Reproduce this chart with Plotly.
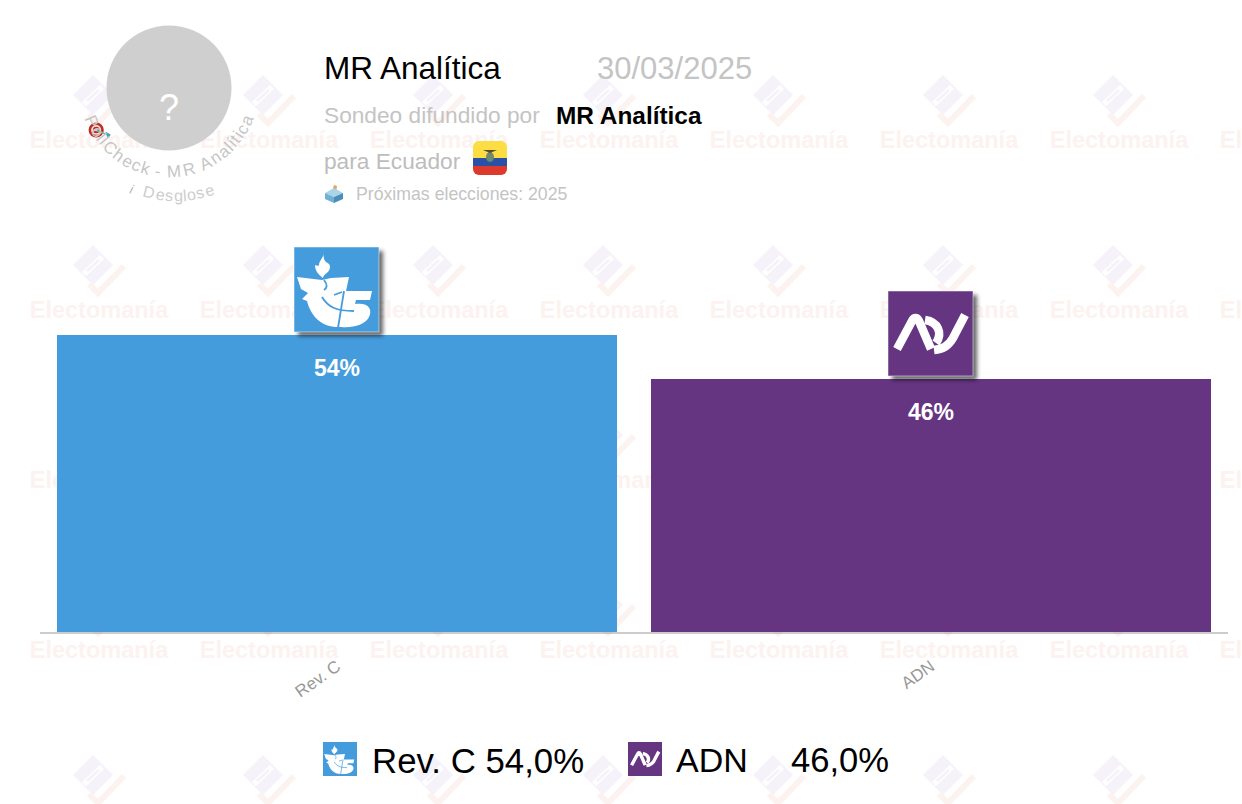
import base64
from math import sin, cos, radians
import plotly.graph_objects as go

categories = ['Rev. C', 'ADN']
values = [54, 46]
bar_labels = ['54%', '46%']
bar_colors = ['#459cdd', '#653582']
legend_values = ['54,0%', '46,0%']

title = 'MR Analítica'
date = '30/03/2025'
next_elections = 'Próximas elecciones: 2025'
arc_title = 'PollCheck - MR Analítica'
arc_sub = 'Desglose'
watermark = 'Electomanía'

W = 1242
H = 804
M_L, M_R, M_T, M_B = 40, 14, 82, 172
FONT = 'Liberation Sans'
GREY = '#c4c4c4'

# em widths, only used to lay the curved text out
EM = {'P': .667, 'o': .556, 'l': .222, 'C': .722, 'h': .556, 'e': .556, 'c': .5, 'k': .5, ' ': .278,
      '-': .333, 'M': .833, 'R': .722, 'A': .667, 'n': .556, 'a': .556, 'í': .278, 't': .278, 'i': .222,
      'D': .722, 's': .5, 'g': .556}


def px(x):
    return (x - M_L) / (W - M_L - M_R)


def py(y):
    return 1 - (y - M_T) / (H - M_T - M_B)


def svg_uri(body, vb_w, vb_h):
    svg = '<svg xmlns="http://www.w3.org/2000/svg" viewBox="0 0 {w} {h}" width="{w}" height="{h}">{b}</svg>'.format(w=vb_w, h=vb_h, b=body)
    return 'data:image/svg+xml;base64,' + base64.b64encode(svg.encode('utf-8')).decode('ascii')


RC5_GLYPH = '''
<path fill="#fff" d="M29 5 C31 10 25 13 25 18 C25 19 23 19 21 18 C21 24 25 28 29 31 C29 27 36 26 36 20 C36 16 33 16 32 15 C29 12 30 9 29 5 Z"/>
<path fill="#fff" d="M3 30 L28 33 L37 31 L55 30 L52 44 L78 44 L76 53 L62 53 L61 57 C74 55 79 62 75 70 C71 78 59 81 47 80 L44 80 C28 80 17 70 13 54 L8 52 L14 46 L7 42 Z"/>
<g fill="none" stroke="#459cdd" stroke-width="1.8">
<path d="M28 50 C34 60 42 64 60 64"/><path d="M50 44 L44 81"/><path d="M40 48 L48 45"/><path d="M30 33 C34 38 33 41 30 43"/>
</g>
'''
ADN_GLYPH = '''
<g fill="none" stroke="#fff" stroke-width="8.5" stroke-linecap="butt" stroke-linejoin="round">
<path d="M9 58 L24 30 C26 26 29 26 31 30 L43 58"/>
<path d="M37 29 C50 31 55 42 48 52"/>
<path d="M77 24 L65 47 C60 56 54 58 46 59"/>
</g>
'''


def badge(color, glyph):
    shadow = '<filter id="s" x="-20%" y="-20%" width="140%" height="140%"><feGaussianBlur stdDeviation="2"/></filter>'
    body = shadow + '<rect x="4" y="4" width="85" height="85" fill="#000" fill-opacity="0.6" filter="url(#s)"/>'
    body += '<rect x="0" y="0" width="85" height="85" fill="{c}" stroke="#ffffff" stroke-opacity="0.5" stroke-width="1"/>'.format(c=color)
    return svg_uri(body + glyph, 95, 95)


def square(color, glyph):
    return svg_uri('<rect width="85" height="85" fill="{c}"/>'.format(c=color) + glyph, 85, 85)


WM_LOGO = svg_uri('''
<path fill="#f5f2f9" d="M20 0 L40 20 L20 40 L0 20 Z"/>
<path fill="#ffffff" d="M27 10 L31 14 L13 31 L9 27 Z"/>
<path fill="#f5f2f9" d="M25 14 L27 16 L15 27 L13 25 Z"/>
<path fill="none" stroke="#fcf3f0" stroke-width="6" d="M51 21 L25 48 L16 39"/>
''', 56, 56)

FLAG = svg_uri('''
<clipPath id="c"><rect width="34" height="34" rx="6"/></clipPath>
<g clip-path="url(#c)">
<rect width="34" height="17" fill="#fcdd44"/><rect y="17" width="34" height="9" fill="#2a50a8"/><rect y="25" width="34" height="9" fill="#dd3a2e"/>
</g>
<ellipse cx="17" cy="16" rx="4" ry="5" fill="#6f8a6a"/><path d="M10 9 L24 9 L17 12 Z" fill="#5a4a30"/>
''', 34, 34)

TARGET = svg_uri('''
<circle cx="7.5" cy="7.5" r="7" fill="#c22a22"/><circle cx="7.5" cy="7.5" r="4.6" fill="#f2e2dc"/>
<circle cx="7.5" cy="7.5" r="3" fill="#c22a22"/><circle cx="7.5" cy="7.5" r="1.3" fill="#f2e2dc"/>
<path d="M8 8 L18 12" stroke="#6fb6a8" stroke-width="1.6"/><path d="M16 9 L21 12 L18 15 Z" fill="#3fa4b8"/>
''', 22, 16)

BALLOT = svg_uri('''
<path d="M9 0 L12 1 L11 7 L7 7 Z" fill="#e5a25a"/>
<path d="M9 3 L18 8 L9 12 L0 8 Z" fill="#a9d4ea"/>
<path d="M0 8 L9 12 L9 18 L0 14 Z" fill="#6fb0d4"/>
<path d="M18 8 L9 12 L9 18 L18 14 Z" fill="#4b8fb8"/>
''', 18, 18)


fig = go.Figure(go.Bar(x=categories,
                       y=values,
                       marker_color=bar_colors,
                       marker_line_width=0,
                       hoverinfo='skip'))

images = []


def add_image(source, x, y, w, h, layer='above'):
    images.append(dict(source=source, xref='paper', yref='paper', x=px(x), y=py(y),
                       sizex=w / (W - M_L - M_R), sizey=h / (H - M_T - M_B),
                       xanchor='left', yanchor='top', sizing='stretch', layer=layer))


def add_text(text, x, y, size, color, anchor='left', **kwargs):
    fig.add_annotation(text=text, xref='paper', yref='paper', x=px(x), y=py(y), showarrow=False,
                       xanchor=anchor, yanchor='middle', font=dict(family=FONT, size=size, color=color), **kwargs)


def add_arc(text, cx, cy, r, start, end, size, color):
    total = sum(EM.get(c, .5) for c in text)
    pos = 0
    for c in text:
        w = EM.get(c, .5)
        theta = start + (end - start) * (pos + w / 2) / total
        pos += w
        if c == ' ':
            continue
        add_text(c, cx + r * sin(radians(theta)), cy + r * cos(radians(theta)), size, color,
                 anchor='center', textangle=-theta)


# watermark tiles behind the bars
for row in range(5):
    for col in range(8):
        add_image(WM_LOGO, 73 + 170 * col, 75 + 170 * row, 56, 56, layer='below')
for row in range(4):
    for col in range(8):
        x0 = 30 + 170 * col
        y0 = 137 + 170 * row
        fig.add_shape(type='rect', xref='paper', yref='paper', layer='below',
                      x0=px(x0), x1=px(x0 + 138), y0=py(y0 - 12), y1=py(y0 + 12),
                      line_width=0, fillcolor='rgba(0,0,0,0)',
                      label=dict(text=watermark, textposition='middle center',
                                 font=dict(family=FONT, size=23.5, color='#fcf2f0', weight=700)))

# avatar with the question mark
fig.add_shape(type='circle', xref='paper', yref='paper', layer='above',
              x0=px(106.5), x1=px(231.5), y0=py(25.5), y1=py(150.5),
              line_width=0, fillcolor='#d0cfcf')
add_text('?', 169, 108, 36, '#ffffff', anchor='center')
add_image(TARGET, 88, 122, 24, 17)
add_arc(arc_title, 169, 88, 84, -71, 71, 17, '#c6c6c6')
add_arc(arc_sub, 175, 88, 108, -17, 21, 16, '#cdcdcd')
add_text('<i>i</i>', 132, 190, 13, '#b5b5b5', anchor='center', textangle=15)

# header
add_text(title, 322, 68, 31.5, '#000000')
add_text(date, 595, 68, 31, GREY)
add_text('Sondeo difundido por', 322, 115, 22.7, GREY)
add_text('<b>' + title + '</b>', 554, 116, 24.4, '#000000')
add_text('para Ecuador', 322, 161, 22.7, '#bdbdbd')
add_image(FLAG, 473, 141, 34, 34)
add_image(BALLOT, 325, 185, 18, 18)
add_text(next_elections, 354, 194, 17.7, GREY)

# badges on the bars
for cat, val, color, glyph, x0 in zip(categories, values, bar_colors, [RC5_GLYPH, ADN_GLYPH], [294, 888]):
    bar_top = 632 - val * 5.5
    add_image(badge(color, glyph), x0, bar_top - 88, 95, 95)
    fig.add_annotation(x=cat, y=val, yshift=-33, text='<b>' + bar_labels[categories.index(cat)] + '</b>',
                       showarrow=False, yanchor='middle',
                       font=dict(family=FONT, size=23, color='#ffffff'))

# legend row
add_image(square(bar_colors[0], RC5_GLYPH), 323, 742, 34, 34)
add_image(square(bar_colors[1], ADN_GLYPH), 628, 742, 34, 34)
add_text(categories[0] + ' ' + legend_values[0], 370, 760, 34.8, '#000000')
add_text(categories[1], 674, 760, 34, '#000000')
add_text(legend_values[1], 789, 760, 34.6, '#000000')

fig.update_layout(width=W,
                  height=H,
                  margin=dict(l=M_L, r=M_R, t=M_T, b=M_B, pad=0),
                  paper_bgcolor='#ffffff',
                  plot_bgcolor='rgba(0,0,0,0)',
                  showlegend=False,
                  bargap=0.0572,
                  images=images,
                  font=dict(family=FONT))
fig.update_xaxes(tickangle=-35,
                 tickfont=dict(family=FONT, size=17, color='#999999'),
                 ticks='',
                 ticklabelstandoff=16,
                 showgrid=False,
                 zeroline=False,
                 showline=True,
                 linecolor='rgba(0,0,0,0.2)',
                 linewidth=2,
                 layer='above traces')
fig.update_yaxes(range=[0, 100], visible=False, showgrid=False, zeroline=False)

fig.write_html("out.html",
               config=dict(displayModeBar=False),
               post_script="document.body.style.margin='0';document.documentElement.style.overflow='hidden';")
